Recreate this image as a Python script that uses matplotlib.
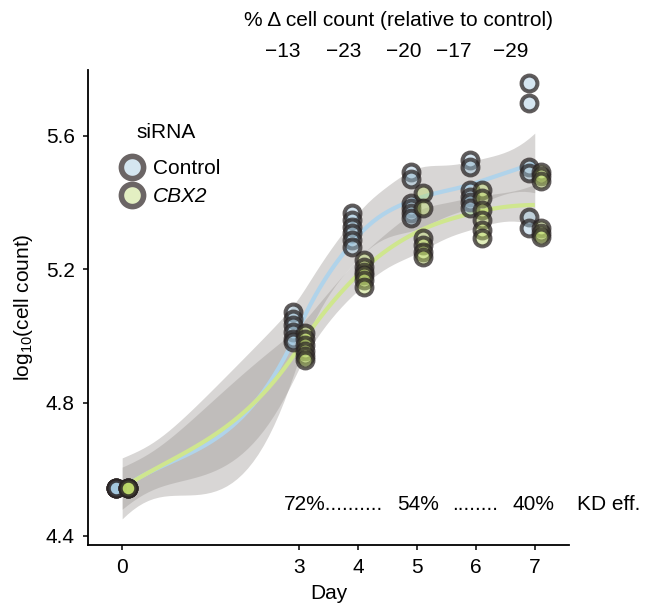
import numpy as np
import matplotlib

matplotlib.use("Agg")
import matplotlib.pyplot as plt
from matplotlib.lines import Line2D

plt.rcParams["font.family"] = ["Liberation Sans", "DejaVu Sans"]
plt.rcParams["font.size"] = 15

# --- data (log10 cell counts, six replicates per day) ----------------------
days = [0, 3, 4, 5, 6, 7]
control_log = [
    [4.544, 4.544, 4.544, 4.544, 4.544, 4.544],
    [5.072, 5.052, 5.032, 5.012, 4.992, 4.982],
    [5.369, 5.348, 5.327, 5.309, 5.288, 5.267],
    [5.492, 5.471, 5.399, 5.384, 5.369, 5.354],
    [5.528, 5.507, 5.438, 5.417, 5.402, 5.384],
    [5.759, 5.699, 5.507, 5.490, 5.357, 5.324],
]
cbx2_log = [
    [4.544, 4.544, 4.544, 4.544, 4.544, 4.544],
    [5.009, 4.990, 4.972, 4.955, 4.940, 4.928],
    [5.228, 5.207, 5.192, 5.183, 5.168, 5.147],
    [5.429, 5.384, 5.294, 5.273, 5.252, 5.237],
    [5.438, 5.414, 5.378, 5.348, 5.318, 5.294],
    [5.492, 5.480, 5.465, 5.324, 5.310, 5.297],
]
pct_change = ["\u221213", "\u221223", "\u221220", "\u221217", "\u221229"]
kd_labels = ["72%..........", "54%", "........", "40%", "KD eff."]
y_ticks = [4.4, 4.8, 5.2, 5.6]

# --- layout ----------------------------------------------------------------
PCT_X = [2.73, 3.75, 4.77, 5.62, 6.60]
KD_X = [2.75, 4.67, 5.60, 6.62, 7.72]
KD_Y = 4.493
DODGE = 0.1
LEVEL_Z = 2.575829  # 99% band

BAND = (0.62, 0.60, 0.59, 0.4)
EDGE = (0.17, 0.145, 0.145, 0.75)
GROUPS = [
    ("Control", control_log, -DODGE, "#a2c7de", "#b0d3ea", "#d5e6f0"),
    ("CBX2", cbx2_log, DODGE, "#bcd86a", "#cfe68e", "#e3efc2"),
]


def _t_quantile(df, z=LEVEL_Z):
    # Cornish-Fisher expansion of Student's t quantile
    return z + (z**3 + z) / (4 * df) + (5 * z**5 + 16 * z**3 + 3 * z) / (96 * df**2)


def _local_rows(x, x0, q):
    n = len(x)
    d = np.abs(x - x0)
    h = np.sort(d)[q - 1]
    u = np.clip(d / h, 0, 1)
    w = (1 - u**3) ** 3
    X = np.column_stack([np.ones(n), x - x0, (x - x0) ** 2])
    XtW = X.T * w
    sol = np.linalg.solve(XtW @ X, XtW)
    return sol[0], sol[1]  # operator rows for value and slope


def loess(x, y, x_eval, span=0.75):
    """R-style loess: exact local quadratic fits at the kd-tree vertices
    (the distinct days here), cubic Hermite interpolation in between."""
    n = len(x)
    q = int(np.floor(n * span))
    verts = np.unique(x)
    val_rows, slope_rows = zip(*[_local_rows(x, v, q) for v in verts])
    val_rows, slope_rows = np.array(val_rows), np.array(slope_rows)

    def interp_rows(pts):
        out = np.empty((len(pts), n))
        for i, p in enumerate(pts):
            j = min(np.searchsorted(verts, p, side="right") - 1, len(verts) - 2)
            h = verts[j + 1] - verts[j]
            t = (p - verts[j]) / h
            h00 = 2 * t**3 - 3 * t**2 + 1
            h10 = t**3 - 2 * t**2 + t
            h01 = -2 * t**3 + 3 * t**2
            h11 = t**3 - t**2
            out[i] = (h00 * val_rows[j] + h10 * h * slope_rows[j]
                      + h01 * val_rows[j + 1] + h11 * h * slope_rows[j + 1])
        return out

    L_eval = interp_rows(x_eval)
    L = interp_rows(x)
    resid = y - L @ y
    IL = np.eye(n) - L
    M = IL.T @ IL
    d1 = np.trace(M)
    d2 = np.trace(M @ M)
    sigma = np.sqrt(resid @ resid / d1)
    se = sigma * np.sqrt((L_eval**2).sum(axis=1))
    fit = L_eval @ y
    t = _t_quantile(d1**2 / d2)
    return fit, fit - t * se, fit + t * se


fig = plt.figure(figsize=(6.56, 6.06), dpi=100)
ax = fig.add_axes([0.1341, 0.1007, 0.7332, 0.7838])

grid = np.linspace(min(days), max(days), 80)
fits = []
for name, vals, off, face, line, legface in GROUPS:
    x = np.repeat(days, [len(v) for v in vals]).astype(float)
    y = np.concatenate(vals)
    fit, lo, hi = loess(x, y, grid)
    fits.append((x, y, fit, off, face, line))
    ax.fill_between(grid, lo, hi, color=BAND, lw=0, zorder=1)

for x, y, fit, off, face, line in fits:
    ax.plot(grid, fit, color=line, lw=3, solid_capstyle="butt", zorder=2)

for x, y, fit, off, face, line in fits:
    fc = matplotlib.colors.to_rgba(face, 0.45)
    ax.scatter(x + off, y, s=130, facecolors=[fc], edgecolors=[EDGE],
               linewidths=2.9, zorder=3)

ax.set_xlim(-0.58, 7.58)
ax.set_ylim(4.373, 5.798)
ax.set_xticks(days)
ax.set_yticks(y_ticks)
ax.set_yticklabels([f"{v:.1f}" for v in y_ticks])
ax.set_xlabel("Day", labelpad=5)
ax.set_ylabel(r"$\mathregular{log_{10}}$(cell count)", labelpad=8)
for side in ("top", "right"):
    ax.spines[side].set_visible(False)
for side in ("left", "bottom"):
    ax.spines[side].set_linewidth(1.3)
ax.tick_params(length=3.5, width=1.1, pad=6, labelsize=15)

# top annotation: % change in cell count per day
trans = ax.get_xaxis_transform()
ax.text(4.68, 1.105, "% \u0394 cell count (relative to control)", transform=trans,
        ha="center", va="center", fontsize=15)
for xp, lab in zip(PCT_X, pct_change):
    ax.text(xp, 1.038, lab, transform=trans, ha="center", va="center", fontsize=15)

# knockdown efficiency row
for xp, lab in zip(KD_X, kd_labels):
    ax.text(xp, KD_Y, lab, ha="left", va="center", fontsize=15, clip_on=False)

# legend
handles = [
    Line2D([], [], ls="", marker="o", ms=16, mew=4, mfc=g[5], mec="#6b6565")
    for g in GROUPS
]
leg = ax.legend(handles, [g[0] for g in GROUPS], loc="center left",
                bbox_to_anchor=(0.062, 0.763), frameon=False, borderpad=0,
                borderaxespad=0, handlelength=1.35, handletextpad=0.34,
                labelspacing=0.45, fontsize=15)
leg.get_texts()[1].set_fontstyle("italic")
ax.text(0.0998, 0.869, "siRNA", transform=ax.transAxes, ha="left", va="center",
        fontsize=15)

fig.savefig("out.png", dpi=100)
